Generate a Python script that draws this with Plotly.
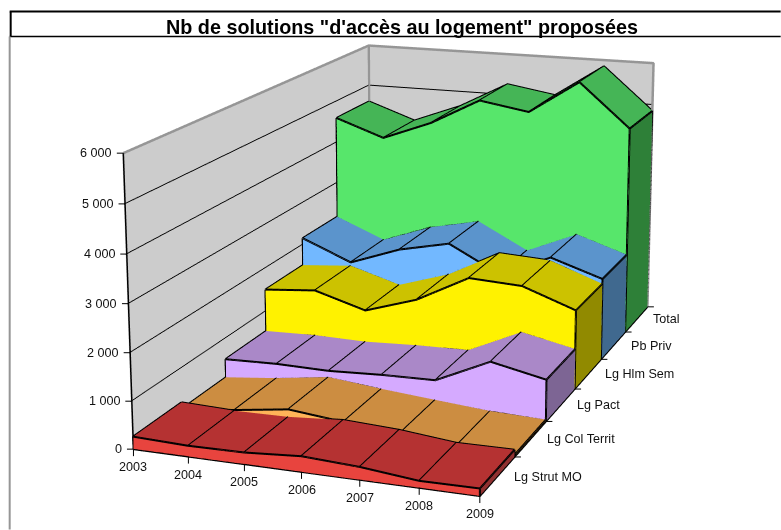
import plotly.graph_objects as go

years = [2003, 2004, 2005, 2006, 2007, 2008, 2009]
series = ["Lg Strut MO", "Lg Col Territ", "Lg Pact", "Lg Hlm Sem", "Pb Priv", "Total"]
strut = [262, 225, 240, 320, 260, 140, 150]
col_territ = [120, 240, 400, 280, 180, 80, 40]
pact = [530, 560, 540, 590, 610, 1150, 900]
hlm_sem = [1500, 1600, 1260, 1630, 2240, 2180, 1760]
pb_priv = [2150, 1680, 2100, 2350, 1750, 2250, 1870]
total = [4590, 4190, 4640, 5260, 5070, 5850, 4850]
values = [strut, col_territ, pact, hlm_sem, pb_priv, total]
top_colors = ["#b53232", "#cc8d41", "#aa88c8", "#ccc200", "#5b94cc", "#45b556"]
front_colors = ["#e8443e", "#ffb458", "#d5aaff", "#fff200", "#72b8ff", "#57e66b"]
side_colors = ["#903030", "#a07030", "#7d6594", "#918a00", "#40698f", "#2e8038"]
z_ticks = [0, 1000, 2000, 3000, 4000, 5000, 6000]
z_labels = ["0", "1 000", "2 000", "3 000", "4 000", "5 000", "6 000"]

# the reference has a long lens: a tall scene gives the same weak perspective; the page shows its window onto it
H, W = 1735, 855
TOP, LEFT = 175.93 - H / 2, 427.82 - W / 2

fig = go.Figure()
LIGHT = dict(ambient=1, diffuse=0, specular=0, roughness=1, fresnel=0)
xa, xb = years[0], years[-1]
ya, yb = 0, len(series)
za, zb = z_ticks[0], z_ticks[-1]

for i, vals in enumerate(values):
    X, Y, Z, I, J, K, C = [], [], [], [], [], [], []
    def quad(p, col):
        n = len(X)
        for (a, b, c) in p:
            X.append(a); Y.append(b); Z.append(c)
        I.extend([n, n]); J.extend([n + 1, n + 2]); K.extend([n + 2, n + 3]); C.extend([col, col])
    for k in range(len(years) - 1):
        x0, x1, v0, v1 = years[k], years[k + 1], vals[k], vals[k + 1]
        quad([(x0, i, v0), (x1, i, v1), (x1, i + 1, v1), (x0, i + 1, v0)], top_colors[i])
        quad([(x0, i, 0), (x1, i, 0), (x1, i, v1), (x0, i, v0)], front_colors[i])
    ve = vals[-1]
    quad([(xb, i, 0), (xb, i + 1, 0), (xb, i + 1, ve), (xb, i, ve)], side_colors[i])
    fig.add_trace(go.Mesh3d(x=X, y=Y, z=Z, i=I, j=J, k=K, facecolor=C, flatshading=True,
                            lighting=LIGHT, hoverinfo="skip", showscale=False))
    lx, ly, lz = [], [], []
    def seg(pts):
        for (a, b, c) in pts:
            lx.append(a); ly.append(b); lz.append(c)
        lx.append(None); ly.append(None); lz.append(None)
    seg([(x, i, v) for x, v in zip(years, vals)])
    seg([(x, i + 1, v) for x, v in zip(years, vals)])
    for x, v in zip(years, vals):
        seg([(x, i, v), (x, i + 1, v)])
    seg([(xa, i, 0), (xa, i, vals[0])])
    seg([(xb, i, 0), (xb, i, ve)])
    seg([(xb, i + 1, 0), (xb, i + 1, ve)])
    seg([(xa, i, 0), (xb, i, 0), (xb, i + 1, 0)])
    fig.add_trace(go.Scatter3d(x=lx, y=ly, z=lz, mode="lines", line=dict(color="black", width=4),
                               hoverinfo="skip", showlegend=False))

fig.add_trace(go.Scatter3d(
    x=[xa, xa, xb, xb, None, xa, xa], y=[ya, yb, yb, yb, None, yb, yb], z=[zb, zb, zb, za, None, za, zb],
    mode="lines", line=dict(color="#969696", width=5), hoverinfo="skip", showlegend=False))
fig.add_trace(go.Scatter3d(x=[xa, xa], y=[ya, ya], z=[za, zb], mode="lines",
                           line=dict(color="black", width=3), hoverinfo="skip", showlegend=False))

axis = dict(showspikes=False, zeroline=False, showline=False, title=dict(text=""), showticklabels=False, ticks="")
label_font = dict(family="Liberation Sans, Arial", size=12.6, color="#111111")
tick = dict(showarrow=True, arrowhead=0, arrowwidth=1, arrowcolor="black", standoff=0, text=" ",
            font=dict(size=1), borderpad=0, xanchor="center", yanchor="middle")
x_notes = [dict(x=y, y=ya, z=za, text=str(y), showarrow=False, xanchor="center", yanchor="middle",
                yshift=-18, font=label_font) for y in years]
x_notes += [dict(tick, x=y, y=ya, z=za, ax=0, ay=8) for y in years]
z_notes = [dict(x=xa, y=ya, z=v, text=t, showarrow=False, xanchor="right", yanchor="middle",
                xshift=-9, font=label_font) for v, t in zip(z_ticks, z_labels)]
z_notes += [dict(tick, x=xa, y=ya, z=v, ax=-7, ay=0) for v in z_ticks]
series_shift = [(-2, -20), (-1, -18), (0, -16), (2, -15), (4, -14), (4, -12)]
y_notes = [dict(x=xb, y=k + 1, z=za, text=name, showarrow=False, xanchor="left", yanchor="middle",
                xshift=series_shift[k][0], yshift=series_shift[k][1], font=label_font)
           for k, name in enumerate(series)]
y_notes += [dict(tick, x=xb, y=k + 1, z=za, ax=7, ay=0) for k in range(len(series))]
scene = dict(
    xaxis=dict(axis, range=[xa - 0.01, xb + 0.01], showgrid=False, showbackground=True, backgroundcolor="#cccccc"),
    yaxis=dict(axis, range=[ya - 0.01, yb + 0.01], showgrid=False, showbackground=True, backgroundcolor="#cccccc"),
    zaxis=dict(axis, range=[za - 5, zb + 5], tickvals=z_ticks[1:-1], showgrid=True, gridcolor="black", gridwidth=2,
               showbackground=False),
    aspectmode="manual",
    aspectratio=dict(x=1, y=1.7830, z=0.8300),
    camera=dict(projection=dict(type="perspective"),
                eye=dict(x=2.0848, y=-5.6913, z=1.6302), center=dict(x=-0.0668, y=0.2832, z=0.1274),
                up=dict(x=0, y=0, z=1)),
    domain=dict(x=[0, 1], y=[0, 1]),
    annotations=x_notes + z_notes + y_notes,
)

def px(x): return (x - LEFT) / W
def py(y): return 1 - (y - TOP) / H
line = lambda x0, y0, x1, y1, col, w: dict(type="line", xref="paper", yref="paper", x0=px(x0), x1=px(x1),
                                            y0=py(y0), y1=py(y1), line=dict(color=col, width=w))
shapes = [
    line(10, 12, 781, 12, "black", 2),
    line(10, 37, 781, 37, "black", 1.5),
    line(11, 12, 11, 37, "black", 2),
    line(10, 37, 10, 530, "#969696", 2),
]
fig.update_layout(
    width=W, height=H, margin=dict(l=0, r=0, t=0, b=0), showlegend=False,
    paper_bgcolor="white", scene=scene, shapes=shapes,
    annotations=[dict(text="<b>Nb de solutions \"d'accès au logement\" proposées</b>", xref="paper", yref="paper",
                      x=px(402), y=py(27), yanchor="middle", xanchor="center", showarrow=False,
                      font=dict(family="Liberation Sans, Arial", size=19.8, color="black"))],
)
fig.write_html("out.html", config=dict(displayModeBar=False),
               post_script=(f"document.body.style.margin='0';document.documentElement.style.overflow='hidden';"
                            f"document.body.style.overflow='hidden';var g=document.querySelector('.plotly-graph-div');"
                            f"g.style.position='absolute';g.style.left='{LEFT}px';g.style.top='{TOP}px';"))
